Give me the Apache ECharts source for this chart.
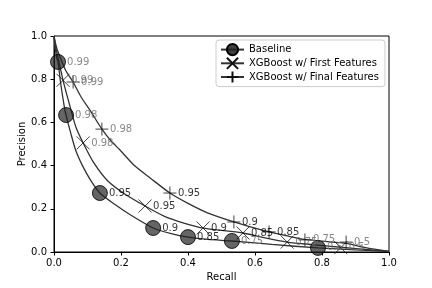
<!DOCTYPE html>
<html>
<head>
<meta charset="utf-8">
<script src="https://cdn.jsdelivr.net/npm/echarts@6/dist/echarts.min.js"></script>
<style>html,body{margin:0;padding:0;background:#fff;}#c{width:432px;height:288px;}</style>
</head>
<body>
<div id="c"></div>
<script>
// ---- data ----
const seriesNames = ['Baseline', 'XGBoost w/ First Features', 'XGBoost w/ Final Features'];
const thresholds = [0.99, 0.98, 0.95, 0.9, 0.85, 0.75, 0.5];
const mutedThresholds = [0.99, 0.98, 0.75, 0.5];

// threshold markers
const baseMarkRecall = [0.012, 0.036, 0.137, 0.296, 0.40, 0.531, 0.788];
const baseMarkPrecision = [0.88, 0.634, 0.273, 0.111, 0.069, 0.051, 0.019];
const firstMarkRecall = [0.027, 0.087, 0.272, 0.445, 0.564, 0.696, 0.856];
const firstMarkPrecision = [0.795, 0.505, 0.213, 0.111, 0.088, 0.046, 0.020];
const finalMarkRecall = [0.057, 0.143, 0.346, 0.537, 0.642, 0.749, 0.872];
const finalMarkPrecision = [0.787, 0.569, 0.273, 0.139, 0.093, 0.056, 0.046];

// precision-recall curves
const baseCurveRecall = [0, 0.003, 0.008, 0.012, 0.02, 0.03, 0.036, 0.05, 0.065, 0.085, 0.11, 0.137, 0.18, 0.23, 0.296, 0.35, 0.40, 0.46, 0.531, 0.65, 0.788, 0.9, 1.0];
const baseCurvePrecision = [1.0, 0.95, 0.9, 0.88, 0.78, 0.68, 0.634, 0.55, 0.47, 0.40, 0.33, 0.273, 0.222, 0.17, 0.111, 0.085, 0.069, 0.058, 0.051, 0.035, 0.019, 0.01, 0.003];
const firstCurveRecall = [0, 0.005, 0.012, 0.027, 0.045, 0.065, 0.087, 0.12, 0.16, 0.21, 0.272, 0.33, 0.39, 0.445, 0.5, 0.564, 0.63, 0.696, 0.78, 0.856, 0.93, 1.0];
const firstCurvePrecision = [1.0, 0.95, 0.9, 0.795, 0.69, 0.58, 0.505, 0.41, 0.33, 0.27, 0.213, 0.165, 0.133, 0.111, 0.1, 0.088, 0.065, 0.046, 0.033, 0.022, 0.012, 0.003];
const finalCurveRecall = [0, 0.004, 0.01, 0.035, 0.057, 0.08, 0.11, 0.143, 0.17, 0.197, 0.24, 0.287, 0.346, 0.40, 0.46, 0.537, 0.6, 0.642, 0.7, 0.749, 0.8, 0.872, 0.93, 1.0];
const finalCurvePrecision = [1.0, 0.97, 0.935, 0.84, 0.787, 0.72, 0.65, 0.569, 0.515, 0.472, 0.40, 0.343, 0.273, 0.225, 0.18, 0.139, 0.11, 0.093, 0.073, 0.058, 0.05, 0.04, 0.02, 0.003];

const xTicks = [0.0, 0.2, 0.4, 0.6, 0.8, 1.0];
const yTicks = [0.0, 0.2, 0.4, 0.6, 0.8, 1.0];

// ---- build ----
const FONT = 'DejaVu Sans';
const zip = (a, b) => a.map((v, i) => [v, b[i]]);
const zipT = (a, b) => a.map((v, i) => [v, b[i], thresholds[i]]);

const xSym = 'path://M0,0L10,10M10,0L0,10';
const plusSym = 'path://M5,0L5,10M0,5L10,5';
const curveStyle = { color: '#333', width: 1.3 };

const markerDefs = [
  { name: seriesNames[0], symbol: 'circle', size: 15, data: zipT(baseMarkRecall, baseMarkPrecision),
    itemStyle: { color: 'rgba(30,30,30,0.85)', borderColor: '#000', borderWidth: 1 } },
  { name: seriesNames[1], symbol: xSym, size: 13, data: zipT(firstMarkRecall, firstMarkPrecision),
    itemStyle: { color: 'rgba(0,0,0,0)', borderColor: '#111', borderWidth: 1 } },
  { name: seriesNames[2], symbol: plusSym, size: 13, data: zipT(finalMarkRecall, finalMarkPrecision),
    itemStyle: { color: 'rgba(0,0,0,0)', borderColor: '#111', borderWidth: 1 } }
];
const curves = [zip(baseCurveRecall, baseCurvePrecision), zip(firstCurveRecall, firstCurvePrecision), zip(finalCurveRecall, finalCurvePrecision)];

const series = [];
markerDefs.forEach((m, i) => {
  series.push({
    type: 'line', name: m.name, data: curves[i], showSymbol: false,
    symbol: m.symbol, itemStyle: m.itemStyle, lineStyle: curveStyle,
    smooth: 0.25, z: 2, animation: false, silent: true
  });
});
markerDefs.forEach((m) => {
  series.push({
    type: 'scatter', name: m.name + ' thresholds', data: m.data,
    symbol: m.symbol, symbolSize: m.size, itemStyle: m.itemStyle, z: 3,
    animation: false, silent: true,
    label: {
      show: true, position: 'right', distance: 1, offset: [0, -3],
      fontFamily: FONT, fontSize: 10,
      formatter: p => (mutedThresholds.indexOf(p.value[2]) >= 0 ? '{g|' : '{b|') + p.value[2] + '}',
      rich: { g: { color: '#6a6a6a', fontFamily: FONT, fontSize: 10 }, b: { color: '#000', fontFamily: FONT, fontSize: 10 } }
    },
    labelLayout: { hideOverlap: false }
  });
});

const axisCommon = {
  min: 0, max: 1, interval: 0.2,
  axisLine: { show: true, lineStyle: { color: '#000', width: 1 } },
  axisTick: { show: true, length: 3.5, lineStyle: { color: '#000' } },
  splitLine: { show: false },
  nameMoveOverlap: false,
  nameTextStyle: { fontFamily: FONT, fontSize: 10, color: '#000' },
  axisLabel: { fontFamily: FONT, fontSize: 10, color: '#000', formatter: v => v.toFixed(1) }
};

const chart = echarts.init(document.getElementById('c'), null, { renderer: 'canvas' });
chart.setOption({
  animation: false,
  backgroundColor: '#fff',
  grid: { left: 54, right: 43, top: 36, bottom: 36, show: true, borderColor: '#000', borderWidth: 1, backgroundColor: 'transparent' },
  xAxis: Object.assign({}, axisCommon, { type: 'value', name: 'Recall', nameLocation: 'middle', nameGap: 20,
    axisLabel: Object.assign({}, axisCommon.axisLabel, { margin: 6, customValues: xTicks }) }),
  yAxis: Object.assign({}, axisCommon, { type: 'value', name: 'Precision', nameLocation: 'middle', nameGap: 27,
    axisLabel: Object.assign({}, axisCommon.axisLabel, { margin: 7, customValues: yTicks }) }),
  legend: {
    data: seriesNames, orient: 'vertical', left: 216, top: 40,
    padding: [3, 6, 3, 4], itemGap: 0.5, itemWidth: 23, itemHeight: 14,
    borderColor: '#ccc', borderWidth: 1, borderRadius: 3, backgroundColor: 'rgba(255,255,255,0.8)',
    textStyle: { fontFamily: FONT, fontSize: 10, color: '#000' },
    selectedMode: false
  },
  series: series
});
</script>
</body>
</html>
